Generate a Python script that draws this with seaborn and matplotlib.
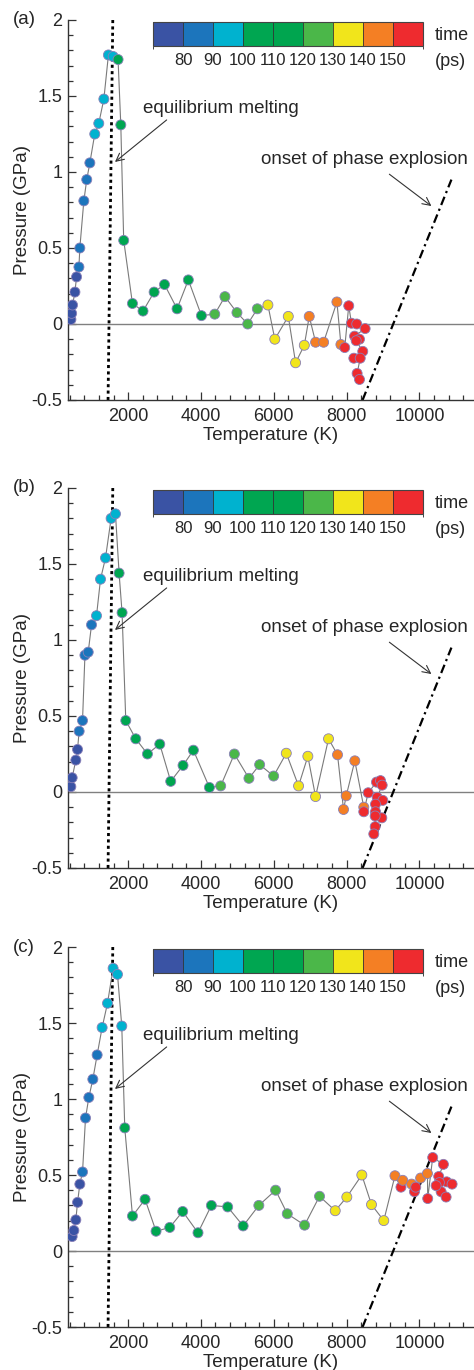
import numpy as np
import pandas as pd
import matplotlib
matplotlib.use("Agg")
import matplotlib.pyplot as plt
import matplotlib.colors as mcolors
import matplotlib.ticker as mticker
import seaborn as sns

# ---- colour scale for simulation time (ps) ----
time_bounds = [75, 80, 90, 100, 110, 120, 130, 140, 150, 155]
time_colors = ["#3a53a4", "#1c75bc", "#00b2cf", "#00a651", "#00a54f",
               "#4bb749", "#f1e51b", "#f47f24", "#ee2b2f"]
time_ticks = [80, 90, 100, 110, 120, 130, 140, 150]

# ---- reference lines ----
melt_T = [1450, 1580]
melt_P = [-0.5, 2.0]
explosion_T = [8440, 10880]
explosion_P = [-0.5, 0.95]

# ---- panel (a) ----
a_temp = [430, 450, 475, 540, 585,
          650, 675, 785, 865, 950,
          1085, 1195, 1335, 1460, 1590,
          1725, 1800, 1880, 2120, 2410, 2715, 3000, 3345, 3655, 4015,
          4380, 4660, 4990, 5285, 5550,
          5840, 6030, 6400, 6600, 6840,
          6975, 7150, 7370, 7735, 7845,
          7950, 8060, 8135, 8280, 8510, 8220, 8355, 8265, 8445, 8200, 8375, 8290, 8355]
a_pres = [0.03, 0.07, 0.125, 0.21, 0.31,
          0.375, 0.50, 0.81, 0.95, 1.06,
          1.25, 1.32, 1.48, 1.77, 1.76,
          1.74, 1.31, 0.55, 0.135, 0.085, 0.21, 0.26, 0.10, 0.29, 0.055,
          0.065, 0.18, 0.075, 0.0, 0.10,
          0.125, -0.10, 0.05, -0.255, -0.14,
          0.05, -0.12, -0.12, 0.145, -0.135,
          -0.155, 0.12, 0.005, 0.0, -0.03, -0.08, -0.10, -0.11, -0.18, -0.225, -0.225, -0.325, -0.365]
a_time = [76, 77, 78, 79, 79.5,
          81, 83, 85, 87, 89,
          91, 93, 95, 97, 99,
          101, 103, 105, 107, 109, 111, 113, 115, 117, 119,
          121, 123, 125, 127, 129,
          131, 133, 135, 137, 139,
          141, 143, 145, 147, 149,
          150.3, 150.6, 150.9, 151.2, 151.5, 151.8, 152.1, 152.4, 152.7, 153.0, 153.3, 153.6, 153.9]

# ---- panel (b) ----
b_temp = [428, 464, 565, 612,
          656, 749, 815, 905, 996,
          1133, 1243, 1380, 1534, 1654,
          1753, 1835, 1937, 2211, 2532, 2870, 3171, 3509, 3794, 4233,
          4543, 4919, 5319, 5613, 5997,
          6345, 6682, 6937, 7149, 7505,
          7752, 7917, 7991, 8227, 8473,
          8473, 8594, 8822, 8932, 8978, 8841, 8995, 8795, 8795, 8968, 8786, 8786, 8748]
b_pres = [0.035, 0.094, 0.21, 0.28,
          0.40, 0.47, 0.90, 0.92, 1.10,
          1.16, 1.40, 1.54, 1.80, 1.83,
          1.44, 1.18, 0.47, 0.35, 0.25, 0.315, 0.07, 0.175, 0.275, 0.03,
          0.04, 0.25, 0.09, 0.18, 0.105,
          0.255, 0.04, 0.235, -0.03, 0.35,
          0.245, -0.115, -0.025, 0.205, -0.10,
          -0.13, -0.005, 0.065, 0.075, 0.045, -0.035, -0.055, -0.08, -0.13, -0.17, -0.158, -0.228, -0.276]
b_time = [76, 77, 78, 79,
          81, 83, 85, 87, 89,
          91, 93, 95, 97, 99,
          101, 103, 105, 107, 109, 111, 113, 115, 117, 119,
          121, 123, 125, 127, 129,
          131, 133, 135, 137, 139,
          141, 143, 145, 147, 149,
          150.3, 150.6, 150.9, 151.2, 151.5, 151.8, 152.1, 152.4, 152.7, 153.0, 153.3, 153.6, 153.9]

# ---- panel (c) ----
c_temp = [464, 511, 565, 612, 675,
          749, 831, 922, 1032, 1150,
          1287, 1435, 1589, 1709, 1827,
          1909, 2121, 2466, 2768, 3144, 3500, 3920, 4288, 4735, 5160,
          5591, 6051, 6372, 6847, 7258,
          7689, 8007, 8419, 8685, 9022,
          9329, 9494, 9543, 9787, 9864, 9900, 10034, 10221,
          10229, 10366, 10660, 10531, 10750, 10898, 10550, 10597, 10734, 10459]
c_pres = [0.095, 0.135, 0.205, 0.32, 0.44,
          0.52, 0.875, 1.01, 1.13, 1.29,
          1.47, 1.63, 1.86, 1.82, 1.48,
          0.81, 0.23, 0.34, 0.13, 0.155, 0.26, 0.12, 0.30, 0.29, 0.165,
          0.30, 0.40, 0.245, 0.17, 0.36,
          0.265, 0.355, 0.50, 0.305, 0.20,
          0.495, 0.42, 0.465, 0.44, 0.39, 0.42, 0.48, 0.51,
          0.345, 0.615, 0.57, 0.49, 0.455, 0.44, 0.45, 0.39, 0.355, 0.43]
c_time = [76, 77, 78, 79, 79.5,
          81, 83, 85, 87, 89,
          91, 93, 95, 97, 99,
          101, 103, 105, 107, 109, 111, 113, 115, 117, 119,
          121, 123, 125, 127, 129,
          131, 133, 135, 137, 139,
          141, 150.2, 143, 145, 150.5, 150.8, 147, 149,
          151.1, 151.4, 151.7, 152.0, 152.3, 152.6, 152.9, 153.2, 153.5, 153.8]

panels = [("(a)", a_temp, a_pres, a_time),
          ("(b)", b_temp, b_pres, b_time),
          ("(c)", c_temp, c_pres, c_time)]

sns.set_style("ticks")
plt.rcParams["font.family"] = ["Liberation Sans", "DejaVu Sans"]
plt.rcParams["axes.unicode_minus"] = False

cmap = mcolors.ListedColormap(time_colors)
norm = mcolors.BoundaryNorm(time_bounds, cmap.N)

W, H = 474, 1370
fig = plt.figure(figsize=(W / 100, H / 100), dpi=100)

ax_left, ax_right = 68, 474
ax_tops = [20, 488, 947]
ax_h = 380

for (letter, temp, pres, time), top in zip(panels, ax_tops):
    ax = fig.add_axes([ax_left / W, 1 - (top + ax_h) / H,
                       (ax_right - ax_left) / W, ax_h / H])
    df = pd.DataFrame({"T": temp, "P": pres, "t": time})

    ax.axhline(0, color="#808080", lw=1.0, zorder=1)
    ax.plot(melt_T, melt_P, color="black", lw=2.0,
            linestyle=(0, (1.1, 1.2)), zorder=2)
    ax.plot(explosion_T, explosion_P, color="black", lw=1.6,
            linestyle=(0, (4.0, 1.8, 1.0, 1.8)), zorder=2)

    sns.lineplot(data=df, x="T", y="P", sort=False, estimator=None,
                 color="#7a7a7a", lw=0.8, ax=ax, zorder=3)
    sns.scatterplot(data=df, x="T", y="P", hue="t", palette=cmap,
                    hue_norm=norm, s=52, edgecolor="#8a80b8",
                    linewidth=0.6, legend=False, ax=ax, zorder=4)

    ax.set_xlim(350, 11500)
    ax.set_ylim(-0.5, 2.0)
    ax.xaxis.set_major_locator(mticker.MultipleLocator(2000))
    ax.xaxis.set_minor_locator(mticker.MultipleLocator(400))
    ax.yaxis.set_major_locator(mticker.MultipleLocator(0.5))
    ax.yaxis.set_minor_locator(mticker.MultipleLocator(0.1))
    ax.yaxis.set_major_formatter(mticker.FuncFormatter(lambda v, p: f"{v:g}"))
    ax.tick_params(which="both", direction="in", top=False, right=False,
                   width=0.9, color="#333333", labelsize=13, pad=4)
    ax.tick_params(axis="x", which="both", pad=6)
    ax.tick_params(which="major", length=6)
    ax.tick_params(which="minor", length=3.6)
    for side in ("top", "right"):
        ax.spines[side].set_visible(False)
    for side in ("left", "bottom"):
        ax.spines[side].set_linewidth(1.0)
        ax.spines[side].set_color("#333333")

    ax.set_xlabel("Temperature (K)", fontsize=13.5)
    ax.set_ylabel("Pressure (GPa)", fontsize=13.5)
    ax.xaxis.set_label_coords(0.5, -0.07)
    ax.yaxis.set_label_coords(-0.092, 0.5)

    ax.text(-0.135, 1.0, letter, transform=ax.transAxes, fontsize=13.5,
            ha="left", va="center")

    ax.annotate("equilibrium melting", xy=(1640, 1.066), xytext=(2400, 1.42),
                fontsize=13.5, va="center", ha="left",
                arrowprops=dict(arrowstyle="->", color="#333333", lw=0.8,
                                shrinkA=0, shrinkB=0, mutation_scale=14,
                                relpos=(0.18, 0.0)))
    ax.annotate("onset of phase explosion", xy=(10330, 0.776), xytext=(5640, 1.085),
                fontsize=13.5, va="center", ha="left",
                arrowprops=dict(arrowstyle="->", color="#333333", lw=0.8,
                                shrinkA=4, shrinkB=0, mutation_scale=14,
                                relpos=(0.58, 0.0)))

    # discrete time colour bar
    cax = ax.inset_axes([0.2094, 0.9316, 0.665, 0.0632])
    sm = plt.cm.ScalarMappable(norm=norm, cmap=cmap)
    cb = fig.colorbar(sm, cax=cax, orientation="horizontal",
                      ticks=time_ticks, drawedges=True)
    cb.outline.set_linewidth(0.8)
    cb.outline.set_edgecolor("#444444")
    cb.dividers.set_color("#333333")
    cb.dividers.set_linewidth(0.6)
    cax.tick_params(length=0, labelsize=12, pad=5)
    cax.text(1.045, 0.45, "time", transform=cax.transAxes,
             fontsize=13, ha="left", va="center")
    cax.text(1.045, -0.66, "(ps)", transform=cax.transAxes,
             fontsize=13, ha="left", va="center")

fig.savefig("out.png", dpi=100)
